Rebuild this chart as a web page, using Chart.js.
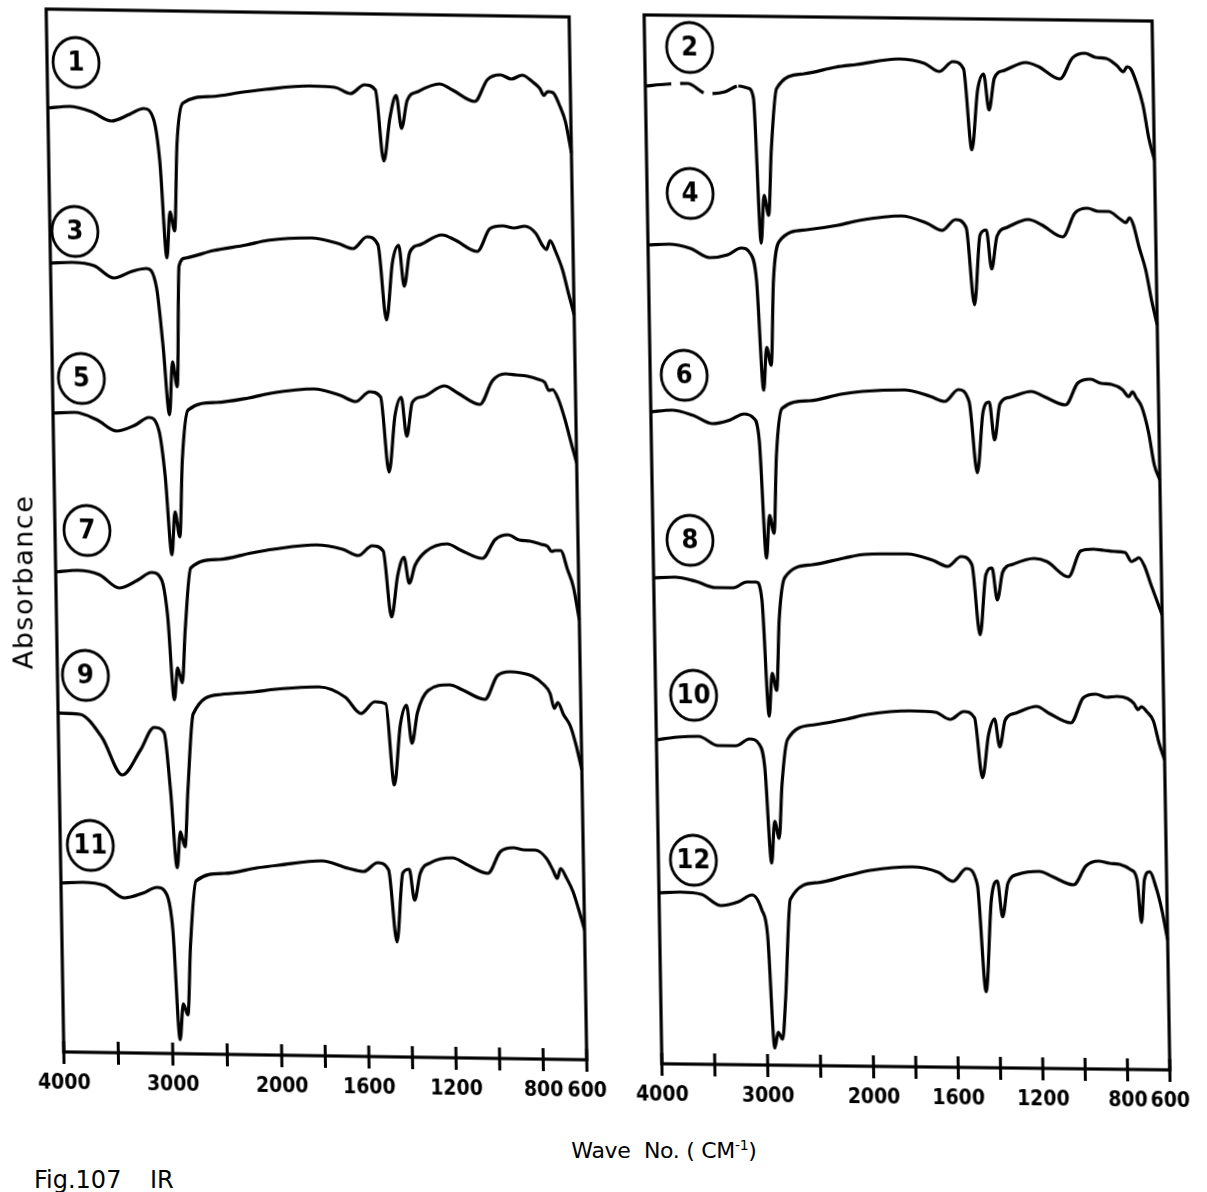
<!DOCTYPE html>
<html>
<head>
<meta charset="utf-8">
<title>IR spectra</title>
<script src="https://cdn.jsdelivr.net/npm/chart.js@4.4.1/dist/chart.umd.min.js"></script>
<style>
  html, body { margin: 0; padding: 0; background: #fff; }
  body { position: relative; width: 1207px; height: 1192px; overflow: hidden; font-family: "DejaVu Sans", sans-serif; color: #000; }
  .panel { position: absolute; top: 0; }
  /* the plotter paper sits slightly askew */
  #leftPanel { left: 0; transform: skew(0.97deg, 0.86deg); transform-origin: 316px 534px; }
  #rightPanel { left: 600px; transform: skew(0.97deg, 0.69deg); transform-origin: 307px 542px; }
  .yTitle { position: absolute; left: 23px; top: 582px; transform: translate(-50%, -50%) rotate(-90deg); font-size: 27px; letter-spacing: 1.5px; white-space: nowrap; }
  .xTitle { position: absolute; left: 664px; top: 1150px; transform: translate(-50%, -50%); font-size: 22px; letter-spacing: -0.3px; white-space: nowrap; }
  .xTitle sup { font-size: 14px; }
  .caption { position: absolute; top: 1166px; font-size: 24px; white-space: nowrap; }
</style>
</head>
<body>
<div class="panel" id="leftPanel"><canvas id="leftChart" width="600" height="1130"></canvas></div>
<div class="panel" id="rightPanel"><canvas id="rightChart" width="607" height="1130"></canvas></div>
<div class="yTitle">Absorbance</div>
<div class="xTitle">Wave&nbsp; No. ( CM<sup>-1</sup>)</div>
<div class="caption" style="left:34px">Fig.107</div>
<div class="caption" style="left:150px">IR</div>
<script>
// wavenumber grid (cm-1) shared by every trace
const waveNumbers = [4000, 3800, 3600, 3420, 3250, 3120, 3030, 2980, 2930, 2895, 2855, 2820, 2760, 2500, 2200, 2000,
  1800, 1680, 1610, 1545, 1495, 1462, 1430, 1400, 1378, 1350, 1300, 1200, 1140, 1040, 980, 920, 870, 820, 770, 740,
  722, 705, 680, 650, 625, 600];

const tickValues = [4000, 3500, 3000, 2500, 2000, 1800, 1600, 1400, 1200, 1000, 800, 600];
const labelledTicks = [4000, 3000, 2000, 1600, 1200, 800, 600];

// stacked absorbance traces (arbitrary units, already offset)
const spectrum1 = [94.4, 94.6, 94.1, 93.2, 93.9, 94.5, 93.4, 89.2, 79.6, 84.2, 82.3, 91.0, 95.1, 95.8, 96.3, 96.6,
  97.0, 96.9, 96.3, 97.2, 96.7, 89.6, 94.0, 96.2, 92.9, 95.7, 96.6, 97.4, 96.8, 95.7, 97.9, 98.4, 98.0, 98.4, 97.7, 97.1,
  96.4, 96.8, 96.7, 95.4, 93.8, 90.7];
const spectrum3 = [78.9, 79.0, 78.7, 77.5, 78.2, 78.5, 76.6, 70.9, 63.9, 69.2, 66.7, 78.8, 79.6, 80.4, 81.0, 81.5,
  81.8, 81.3, 80.8, 82.0, 81.2, 73.7, 79.5, 81.2, 77.1, 80.5, 81.3, 82.3, 81.8, 80.7, 83.0, 83.3, 83.1, 83.3, 82.6, 81.4,
  81.0, 81.9, 80.8, 79.0, 76.7, 74.5];
const spectrum5 = [63.9, 64.0, 63.3, 62.2, 62.8, 63.6, 62.3, 57.8, 49.9, 54.2, 51.7, 59.4, 64.4, 65.2, 65.7, 66.2,
  66.7, 66.1, 65.5, 66.5, 66.0, 58.5, 64.2, 66.0, 62.1, 65.5, 66.1, 67.2, 66.5, 65.4, 67.8, 68.5, 68.4, 68.3, 68.0, 67.7,
  66.9, 67.0, 66.1, 64.0, 61.8, 59.7];
const spectrum7 = [48.0, 48.2, 47.8, 46.5, 47.3, 48.1, 47.4, 43.9, 35.4, 38.6, 37.1, 42.4, 48.6, 49.5, 50.2, 50.6,
  51.1, 50.7, 50.1, 51.1, 50.6, 44.0, 48.2, 50.0, 47.4, 49.2, 50.6, 51.4, 50.8, 50.0, 51.9, 52.4, 51.9, 51.8, 51.5, 51.3,
  50.8, 50.9, 50.9, 49.0, 47.3, 44.0];
const spectrum9 = [33.9, 33.8, 31.5, 27.8, 30.3, 32.6, 32.1, 26.4, 18.6, 22.2, 20.7, 26.4, 34.0, 36.0, 36.3, 36.6,
  36.9, 35.9, 34.3, 35.5, 35.3, 27.2, 33.2, 35.2, 31.4, 34.5, 36.7, 37.3, 36.8, 35.9, 38.3, 38.7, 38.6, 38.3, 37.5, 36.6,
  35.1, 35.7, 34.5, 33.4, 31.5, 29.0];
const spectrum11 = [16.9, 17.0, 16.7, 15.5, 16.0, 16.6, 15.9, 12.4, 1.4, 5.0, 3.9, 10.9, 17.3, 18.1, 18.7, 19.0,
  19.5, 18.8, 18.5, 19.4, 18.7, 11.5, 18.4, 18.8, 15.7, 18.4, 19.5, 20.0, 19.4, 18.5, 20.7, 21.1, 20.9, 20.9, 20.1, 18.9,
  18.1, 19.1, 18.2, 16.8, 15.0, 13.0];

const spectrum2 = [97.8, 98.0, 98.1, 97.1, 97.3, 97.9, 97.7, 96.7, 82.2, 87.0, 85.0, 91.5, 97.7, 99.2, 99.9, 100.2,
  100.8, 100.4, 99.6, 100.6, 99.9, 91.8, 97.8, 99.4, 95.8, 99.0, 99.8, 100.6, 100.2, 99.0, 101.1, 101.6, 101.2, 101.1,
  100.4, 99.8, 100.3, 100.1, 98.8, 96.5, 93.2, 91.0];
const spectrum4 = [81.9, 82.0, 81.6, 80.7, 81.0, 81.7, 81.1, 78.5, 67.5, 71.8, 70.0, 78.5, 82.4, 83.6, 84.1, 84.6,
  85.1, 84.4, 83.7, 84.8, 84.0, 76.3, 83.3, 83.8, 79.9, 83.2, 84.1, 84.9, 84.4, 83.2, 85.6, 86.1, 85.8, 85.8, 85.1, 84.7,
  85.2, 84.5, 82.3, 80.0, 77.0, 74.5];
const spectrum6 = [65.2, 65.4, 64.9, 64.1, 64.5, 65.1, 64.7, 62.5, 50.7, 55.0, 53.2, 61.0, 65.7, 66.5, 67.2, 67.5,
  67.7, 67.1, 66.6, 67.8, 66.6, 59.5, 65.6, 66.6, 62.8, 66.4, 67.1, 67.7, 67.2, 66.4, 68.6, 69.0, 68.6, 68.5, 68.0, 67.3,
  67.8, 67.2, 66.3, 63.8, 60.5, 59.0];
const spectrum8 = [48.6, 48.7, 48.3, 47.7, 47.7, 48.3, 48.3, 46.5, 34.9, 39.2, 37.5, 44.6, 48.8, 50.1, 50.8, 51.2,
  51.3, 50.7, 50.1, 51.1, 50.3, 43.3, 49.3, 50.0, 46.8, 49.6, 50.4, 51.0, 50.7, 49.2, 51.8, 52.0, 51.9, 51.8, 51.7, 50.8,
  51.0, 51.2, 50.4, 48.5, 47.0, 45.5];
const spectrum10 = [32.4, 32.7, 32.8, 31.9, 31.9, 32.6, 32.1, 29.8, 20.2, 24.4, 22.7, 28.1, 32.6, 34.1, 34.7, 35.2,
  35.6, 35.5, 34.8, 35.6, 35.0, 29.0, 33.3, 34.9, 32.1, 34.8, 35.5, 36.2, 35.5, 34.6, 37.1, 37.5, 37.2, 37.3, 37.1, 36.6,
  36.0, 36.3, 35.8, 34.9, 32.7, 31.0];
const spectrum12 = [17.1, 17.2, 17.0, 15.9, 16.3, 17.0, 15.5, 13.0, 1.7, 3.3, 2.6, 6.6, 16.6, 18.3, 19.1, 19.6,
  20.0, 19.5, 18.6, 19.9, 18.3, 7.6, 16.8, 18.7, 15.1, 18.5, 19.4, 19.7, 19.2, 18.4, 20.3, 20.8, 20.6, 20.5, 20.0, 19.0,
  14.7, 19.0, 19.8, 18.2, 16.0, 13.0];

const leftNames = ['1', '3', '5', '7', '9', '11'];
const leftSeries = [spectrum1, spectrum3, spectrum5, spectrum7, spectrum9, spectrum11];
const rightNames = ['2', '4', '6', '8', '10', '12'];
const rightSeries = [spectrum2, spectrum4, spectrum6, spectrum8, spectrum10, spectrum12];

// IR chart paper: 4000-2000 at half the scale of 2000-600
class WaveNumberScale extends Chart.LinearScale {
  static id = 'wavenumber';
  determineDataLimits() {
    this.min = 600;
    this.max = 4000;
  }
  buildTicks() {
    return tickValues.map(v => ({ value: v }));
  }
  getPixelForValue(value) {
    const u = value >= 2000 ? (4000 - value) / 2 : 1000 + (2000 - value);
    return this.getPixelForDecimal(u / 2400);
  }
  getValueForPixel(pixel) {
    const u = this.getDecimalForPixel(pixel) * 2400;
    return u <= 1000 ? 4000 - 2 * u : 2000 - (u - 1000);
  }
}
Chart.register(WaveNumberScale);

const labelFont = '"DejaVu Sans Condensed", "DejaVu Sans", sans-serif';

// frame, crossing tick marks and circled trace numbers
const panelDecor = {
  id: 'panelDecor',
  afterDatasetsDraw(chart, args, opts) {
    const { ctx, chartArea: a } = chart;
    const x = chart.scales.x;
    const y = chart.scales.y;
    ctx.save();
    ctx.strokeStyle = '#000';
    ctx.lineWidth = 3.2;
    ctx.strokeRect(a.left, a.top, a.right - a.left, a.bottom - a.top);

    ctx.lineWidth = 3;
    x.ticks.forEach(t => {
      const px = x.getPixelForValue(t.value);
      ctx.beginPath();
      ctx.moveTo(px, a.bottom - 11);
      ctx.lineTo(px, a.bottom + 12);
      ctx.stroke();
    });

    ctx.lineWidth = 2.8;
    ctx.font = 'bold 27px ' + labelFont;
    ctx.textAlign = 'center';
    ctx.textBaseline = 'middle';
    chart.data.datasets.forEach((ds, i) => {
      const cx = a.left + opts.badgeX[i];
      const cy = y.getPixelForValue(ds.data[0].y) - opts.badgeLift[i];
      ctx.beginPath();
      ctx.ellipse(cx, cy, 23, 25, 0, 0, Math.PI * 2);
      ctx.fillStyle = '#fff';
      ctx.fill();
      ctx.stroke();
      ctx.fillStyle = '#000';
      ctx.fillText(ds.label, cx, cy + 1);
    });
    ctx.restore();
  }
};

function makePanel(canvasId, names, series, layout) {
  return new Chart(document.getElementById(canvasId), {
    type: 'line',
    data: {
      datasets: series.map((values, i) => ({
        label: names[i],
        data: values.map((v, j) => ({ x: waveNumbers[j], y: v })),
        borderColor: '#000',
        borderWidth: 3.2,
        pointRadius: 0,
        fill: false,
        cubicInterpolationMode: 'monotone',
        segment: {
          // trace 2 was drawn dashed above 3100 cm-1
          borderDash: ctx => (names[i] === '2' && ctx.p0.parsed.x > 3120 ? [26, 9] : undefined)
        }
      }))
    },
    options: {
      responsive: false,
      animation: false,
      layout: {
        padding: { left: layout.padLeft, right: layout.padRight, top: layout.padTop, bottom: 0 }
      },
      plugins: {
        legend: { display: false },
        tooltip: { enabled: false },
        panelDecor: { badgeX: layout.badgeX, badgeLift: layout.badgeLift }
      },
      scales: {
        x: {
          type: 'wavenumber',
          grid: { display: false, drawTicks: false },
          border: { display: false },
          ticks: {
            autoSkip: false,
            maxRotation: 0,
            padding: 19,
            color: '#000',
            font: { family: labelFont, size: 21, weight: 'bold' },
            callback: value => (labelledTicks.includes(value) ? String(value) : '')
          },
          afterFit: scale => {
            scale.height = layout.axisHeight;
            scale.paddingLeft = 0;
            scale.paddingRight = 0;
          }
        },
        y: {
          display: false,
          min: 0,
          max: layout.yMax
        }
      }
    },
    plugins: [panelDecor]
  });
}

makePanel('leftChart', leftNames, leftSeries, {
  padLeft: 55, padRight: 22, padTop: 13, axisHeight: 74, yMax: 104.3,
  badgeX: [29, 25, 29, 32, 28, 30],
  badgeLift: [46, 32, 35, 42, 38, 38]
});

makePanel('rightChart', rightNames, rightSeries, {
  padLeft: 53, padRight: 46, padTop: 18, axisHeight: 63, yMax: 104.9,
  badgeX: [45, 43, 34, 37, 38, 35],
  badgeLift: [39, 52, 37, 38, 45, 33]
});
</script>
</body>
</html>
